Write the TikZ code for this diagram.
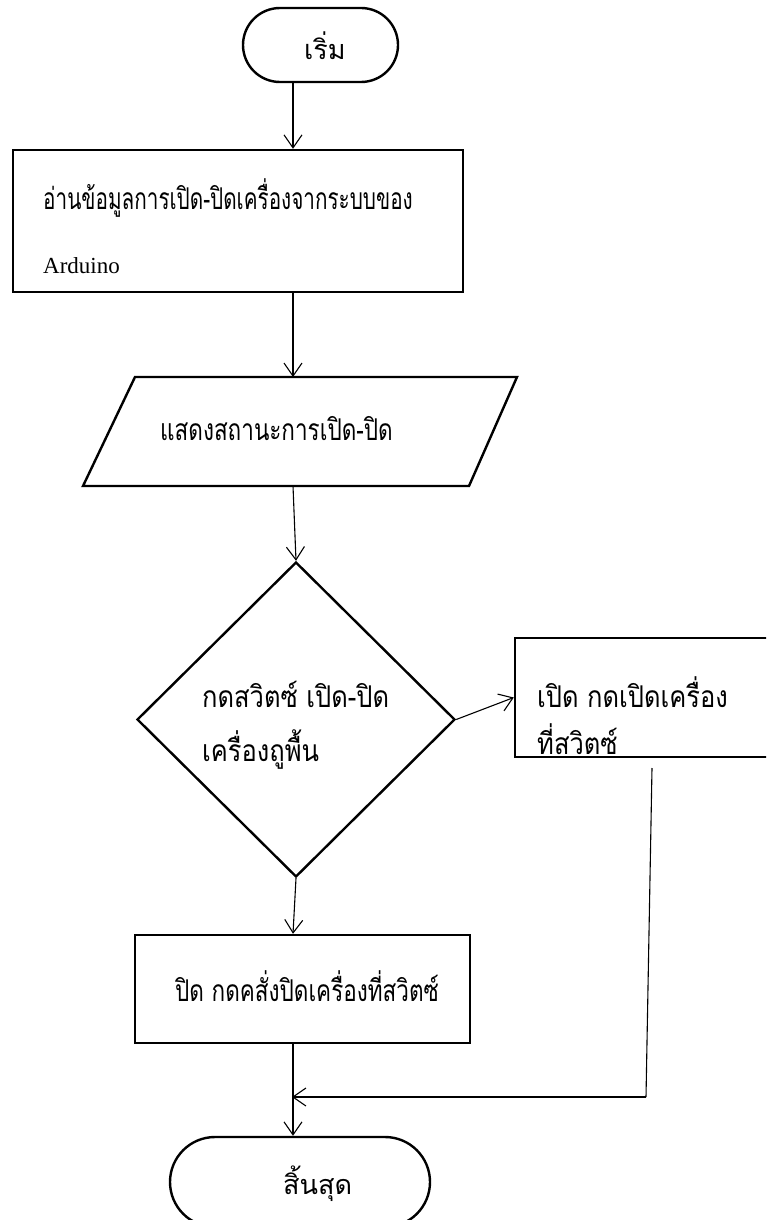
\documentclass[tikz,border=0pt]{standalone}
\usepackage{fontspec}
\setmainfont{Liberation Serif}
\newfontfamily\thaiA[Script=Thai,FakeStretch=0.69]{Loma}
\newfontfamily\thaiB[Script=Thai,FakeStretch=0.75]{Loma}
\newfontfamily\thaiC[Script=Thai,FakeStretch=0.85]{Loma}
\newfontfamily\thaiw[Script=Thai]{Loma}
\usetikzlibrary{arrows.meta,shapes.geometric}
\begin{document}
\begin{tikzpicture}[x=1pt,y=-1pt,
  shp/.style={draw, line width=2.4pt, inner sep=0pt},
  conn/.style={line width=1.1pt, -{Straight Barb[length=13pt,width=18pt]}},
  plain/.style={line width=1.1pt},
  ttxt/.style={anchor=base west, inner sep=0pt, font=\thaiB\fontsize{30}{34}\selectfont},
  ntxt/.style={anchor=base west, inner sep=0pt, font=\thaiA\fontsize{30}{34}\selectfont},
  ctxt/.style={anchor=base west, inner sep=0pt, font=\thaiC\fontsize{30}{34}\selectfont},
  wtxt/.style={anchor=base west, inner sep=0pt, font=\thaiw\fontsize{27}{32}\selectfont},
  etxt/.style={anchor=base west, inner sep=0pt, font=\fontsize{23}{27}\selectfont}]
\useasboundingbox (0,0) rectangle (766,1220);
\clip (0,0) rectangle (766,1220);
% shapes
\node[shp, rounded corners=37pt, minimum width=155pt, minimum height=74pt] (start) at (320.5,45) {};
\node[shp, minimum width=450pt, minimum height=142pt] (box1) at (238,221) {};
\draw[shp] (135,377) coordinate (pa) -- (517,377) coordinate (pb) -- (469,486) coordinate (pc) -- (83,486) coordinate (pd) -- cycle;
\node[shp, diamond, minimum width=318pt, minimum height=315pt] (dec) at (296,719.5) {};
\node[shp, minimum width=300pt, minimum height=119pt] (rbox) at (665,697.5) {};
\node[shp, minimum width=335pt, minimum height=108pt] (box2) at (302.5,989) {};
\node[shp, rounded corners=45pt, minimum width=260pt, minimum height=90pt] (stop) at (300,1182) {};
% texts
\node[wtxt] (tstart) at (304,60) {เริ่ม};
\node[ntxt] (t1a) at (43,209) {อ่านข้อมูลการเปิด-ปิดเครื่องจากระบบของ};
\node[etxt] (t1b) at (43,273) {Arduino};
\node[ttxt] (tpar) at (160,440) {แสดงสถานะการเปิด-ปิด};
\node[ctxt] (tdec1) at (202,707) {กดสวิตซ์ เปิด-ปิด};
\node[ctxt] (tdec2) at (202,761) {เครื่องถูพื้น};
\node[ctxt] (tr1) at (537,707) {เปิด กดเปิดเครื่อง};
\node[ctxt] (tr2) at (537,754) {ที่สวิตซ์};
\node[ttxt] (tb2) at (175,1001) {ปิด กดคสั่งปิดเครื่องที่สวิตซ์};
\node[wtxt] (tstop) at (283,1194) {สิ้นสุด};
% connector anchors
\coordinate (ax) at (293,0);
\coordinate (ptop) at (293,377);
\coordinate (pbot) at (293,486);
\coordinate (rdown) at (652,768);
\coordinate (rcorner) at (646,1097);
\coordinate (join) at (292,1097);
% connectors
\draw[conn] (ax |- start.south) -- (ax |- box1.north);
\draw[conn] (ax |- box1.south) -- (ptop);
\draw[conn] (pbot) -- (dec.north);
\draw[conn] (dec.east) -- (rbox.west);
\draw[conn] (dec.south) -- (ax |- box2.north);
\draw[conn] (ax |- box2.south) -- (ax |- stop.north);
\draw[plain] (rdown) -- (rcorner);
\draw[conn] (rcorner) -- (join);
\end{tikzpicture}
\end{document}
